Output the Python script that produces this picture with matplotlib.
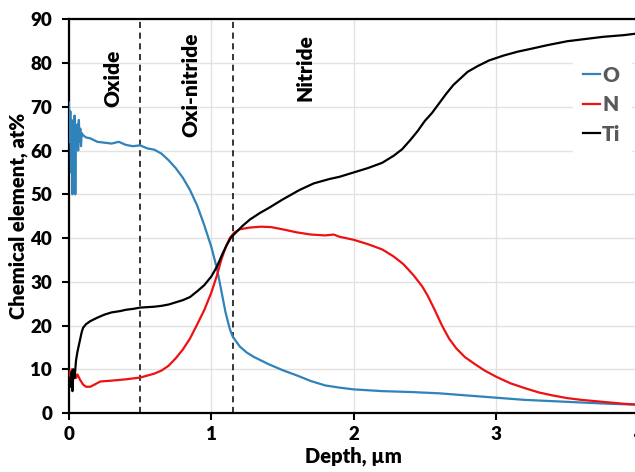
import matplotlib
matplotlib.use("Agg")
import matplotlib.pyplot as plt

plt.rcParams['font.family'] = ['Lato', 'DejaVu Sans']
plt.rcParams['font.weight'] = 'bold'

# Depth profile (depth in µm, concentration in at%)
depth_O = [0.000, 0.005, 0.010, 0.015, 0.020, 0.025, 0.030, 0.035, 0.040, 0.045,
           0.050, 0.055, 0.060, 0.065, 0.070, 0.075, 0.080, 0.085, 0.090, 0.100,
           0.120, 0.150, 0.200, 0.250, 0.300, 0.350, 0.400, 0.450, 0.500, 0.550,
           0.600, 0.650, 0.700, 0.750, 0.800, 0.850, 0.900, 0.950, 1.000, 1.040,
           1.070, 1.100, 1.130, 1.150, 1.200, 1.250, 1.300, 1.400, 1.500, 1.600,
           1.700, 1.800, 1.900, 2.000, 2.200, 2.400, 2.600, 2.800, 3.000, 3.200,
           3.400, 3.600, 3.800, 4.000]
O = [71.0, 62.0, 69.0, 55.0, 67.0, 50.0, 66.0, 60.0, 68.0, 50.0,
     65.0, 61.0, 66.0, 60.0, 67.0, 62.0, 65.0, 61.0, 64.0, 63.5,
     63.0, 62.8, 62.0, 61.8, 61.6, 62.0, 61.3, 61.0, 61.2, 60.5,
     60.2, 59.3, 57.8, 56.0, 53.8, 51.0, 47.5, 43.0, 38.0, 33.0,
     28.0, 23.0, 19.2, 17.5, 15.2, 13.8, 12.8, 11.2, 9.8, 8.6,
     7.3, 6.3, 5.8, 5.4, 5.0, 4.8, 4.5, 4.0, 3.5, 3.0,
     2.7, 2.4, 2.1, 1.9]

depth_N = [0.000, 0.010, 0.020, 0.030, 0.040, 0.050, 0.060, 0.080, 0.100, 0.120,
           0.150, 0.180, 0.220, 0.300, 0.400, 0.500, 0.600, 0.650, 0.700, 0.750,
           0.800, 0.850, 0.900, 0.950, 1.000, 1.040, 1.070, 1.100, 1.130, 1.160,
           1.200, 1.270, 1.350, 1.420, 1.500, 1.600, 1.700, 1.800, 1.860, 1.900,
           2.000, 2.100, 2.200, 2.280, 2.350, 2.420, 2.480, 2.520, 2.570, 2.620,
           2.670, 2.720, 2.780, 2.850, 2.920, 3.000, 3.100, 3.200, 3.300, 3.400,
           3.500, 3.600, 3.700, 3.800, 3.900, 4.000]
N = [9.5, 8.0, 10.0, 7.5, 9.5, 8.0, 8.8, 7.5, 6.5, 6.0,
     6.0, 6.5, 7.2, 7.4, 7.7, 8.1, 9.0, 9.7, 10.8, 12.5,
     14.5, 17.0, 20.2, 23.5, 27.5, 31.5, 35.0, 37.8, 40.0, 41.2,
     42.0, 42.4, 42.6, 42.5, 42.0, 41.3, 40.8, 40.6, 40.8, 40.3,
     39.6, 38.6, 37.4, 35.8, 34.0, 31.5, 29.0, 26.8, 23.5, 20.0,
     17.0, 14.8, 12.8, 11.2, 9.7, 8.3, 6.8, 5.7, 4.7, 4.0,
     3.4, 3.0, 2.7, 2.4, 2.1, 1.9]

depth_Ti = [0.000, 0.010, 0.020, 0.025, 0.030, 0.040, 0.050, 0.060, 0.070, 0.080,
            0.090, 0.100, 0.120, 0.150, 0.200, 0.250, 0.300, 0.360, 0.400, 0.450,
            0.500, 0.550, 0.600, 0.650, 0.700, 0.750, 0.800, 0.850, 0.900, 0.950,
            1.000, 1.040, 1.080, 1.110, 1.140, 1.180, 1.220, 1.270, 1.340, 1.410,
            1.500, 1.620, 1.720, 1.830, 1.900, 2.000, 2.100, 2.200, 2.280, 2.340,
            2.400, 2.450, 2.500, 2.550, 2.600, 2.650, 2.700, 2.750, 2.800, 2.870,
            2.950, 3.050, 3.150, 3.250, 3.360, 3.500, 3.600, 3.750, 3.900, 4.000]
Ti = [8.0, 6.0, 9.5, 5.0, 10.0, 8.0, 12.0, 14.0, 15.5, 17.0,
      18.5, 19.5, 20.3, 21.0, 21.8, 22.5, 23.0, 23.3, 23.6, 23.8,
      24.1, 24.2, 24.3, 24.5, 24.8, 25.3, 25.8, 26.5, 27.8, 29.2,
      31.2, 33.5, 36.5, 38.5, 40.2, 41.5, 42.8, 44.2, 45.7, 47.0,
      48.8, 51.0, 52.5, 53.5, 54.0, 55.0, 56.0, 57.2, 58.8, 60.3,
      62.5, 64.5, 66.8, 68.6, 70.8, 73.0, 75.0, 76.5, 78.0, 79.3,
      80.6, 81.7, 82.6, 83.3, 84.1, 85.0, 85.4, 86.0, 86.4, 86.8]

boundaries = [0.5, 1.15]
zone_labels = ["Oxide", "Oxi-nitride", "Nitride"]
zone_x = [0.31, 0.86, 1.66]
zone_y = [76.5, 75.0, 79.0]

fig = plt.figure(figsize=(6.35, 4.72), dpi=100)
ax = fig.add_axes([0.1085, 0.125, 0.897, 0.834])

ax.grid(True, color='#e2e2e2', linewidth=1.0, zorder=0)
ax.set_axisbelow(True)

ax.plot(depth_O, O, color='#2f82ba', linewidth=1.6, label='O', zorder=3)
ax.plot(depth_N, N, color='#ee1111', linewidth=1.6, label='N', zorder=3)
ax.plot(depth_Ti, Ti, color='black', linewidth=1.6, label='Ti', zorder=4)

for b in boundaries:
    ax.plot([b, b], [0, 90], color='black', linewidth=1.1,
            linestyle=(0, (4, 3)), zorder=2)

for lab, xx, yy in zip(zone_labels, zone_x, zone_y):
    ax.text(xx, yy, lab, rotation=90, ha='center', va='center',
            fontsize=15, fontweight='heavy', color='black')

ax.set_xlim(0, 4)
ax.set_ylim(0, 90)
ax.set_xticks([0, 1, 2, 3, 4])
ax.set_yticks(range(0, 91, 10))
ax.tick_params(axis='both', direction='out', length=5, width=1.5,
               labelsize=13.5)
ax.tick_params(axis='x', pad=4)
ax.tick_params(axis='y', pad=7)
for lbl in ax.get_xticklabels() + ax.get_yticklabels():
    lbl.set_fontweight('heavy')

for side in ['left', 'bottom', 'top']:
    ax.spines[side].set_linewidth(1.6)
    ax.spines[side].set_color('black')
ax.spines['right'].set_visible(False)

ax.set_xlabel('Depth, µm', fontsize=14.5, fontweight='heavy', labelpad=3)
ax.set_ylabel('Chemical element, at%', fontsize=14.5, fontweight='heavy', labelpad=2)

leg = ax.legend(loc='upper right', bbox_to_anchor=(1.005, 0.935),
                frameon=True, fancybox=False, framealpha=1.0,
                edgecolor='white', facecolor='white',
                fontsize=15, handlelength=0.8, handletextpad=0.1,
                labelspacing=0.5, borderpad=0.5)
for t in leg.get_texts():
    t.set_color('#595959')
    t.set_fontweight('heavy')

fig.savefig('out.png', dpi=100)
